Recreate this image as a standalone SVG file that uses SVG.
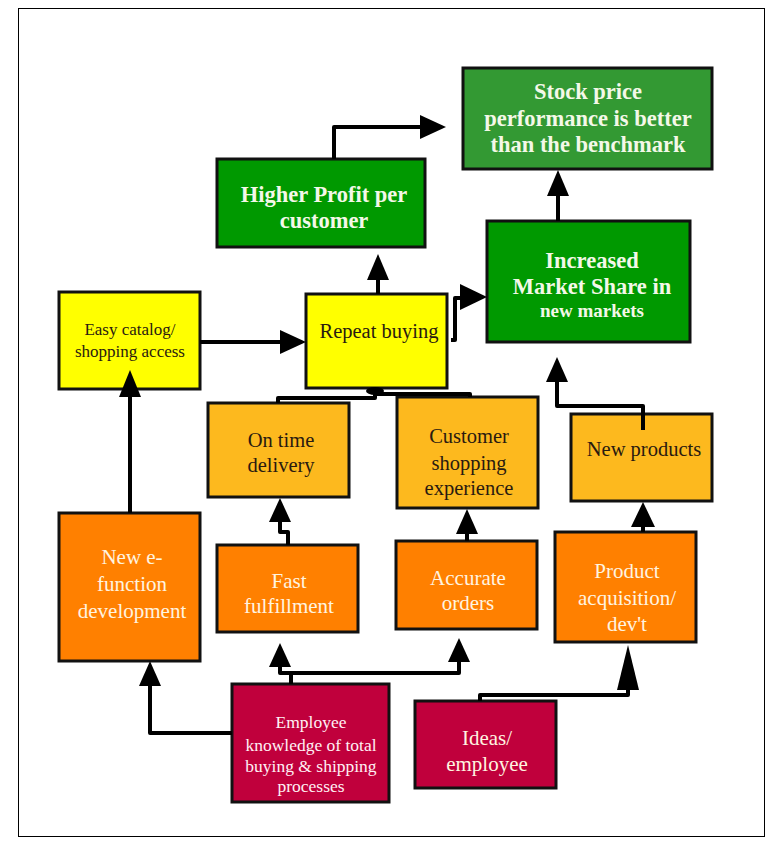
<svg xmlns="http://www.w3.org/2000/svg" width="775" height="848" viewBox="0 0 775 848">
<style>
.n{stroke:#111;stroke-width:3}
.g1{fill:#339933}.g2{fill:#009900}.y{fill:#ffff00}.oy{fill:#fdb91e}.o{fill:#ff8000}.r{fill:#c0003c}
text{text-anchor:middle}
.tb{font-weight:bold;font-size:22.5px;fill:#f4f8e8}
.td{font-size:20.5px;fill:#2a1a10}
.tw{font-size:21px;fill:#fff4e0}
.tr{font-size:17.5px;fill:#fff0f4}
.c{fill:none;stroke:#000;stroke-width:4;stroke-linejoin:round}
.a{fill:#000}
</style>
<rect x="18.5" y="8.5" width="746" height="828" fill="#fff" stroke="#000" stroke-width="1"/>
<g font-family="'Liberation Serif', 'Times New Roman', serif">
<g id="stock"><rect class="n g1" x="463" y="68" width="249" height="101"/>
<text class="tb" x="588" y="99">Stock price</text><text class="tb" x="588" y="126">performance is better</text><text class="tb" x="588" y="152">than the benchmark</text></g>
<g id="profit"><rect class="n g2" x="217" y="159" width="208" height="88"/>
<text class="tb" x="324" y="202">Higher Profit per</text><text class="tb" x="324" y="228">customer</text></g>
<g id="market"><rect class="n g2" x="487" y="221" width="203" height="121"/>
<text class="tb" x="592" y="268">Increased</text><text class="tb" x="592" y="294">Market Share in</text><text class="tb" x="592" y="317" style="font-size:19px">new markets</text></g>
<g id="easy"><rect class="n y" x="59" y="292" width="141" height="97"/>
<text class="td" x="130" y="335" style="font-size:17px">Easy catalog/</text><text class="td" x="130" y="357" style="font-size:17px">shopping access</text></g>
<g id="repeat"><rect class="n y" x="306" y="294" width="141" height="94"/>
<text class="td" x="379" y="338">Repeat buying</text></g>
<g id="ontime"><rect class="n oy" x="208" y="403" width="141" height="94"/>
<text class="td" x="281" y="447">On time</text><text class="td" x="281" y="472">delivery</text></g>
<g id="customer"><rect class="n oy" x="397" y="397" width="141" height="111"/>
<text class="td" x="469" y="443">Customer</text><text class="td" x="469" y="470">shopping</text><text class="td" x="469" y="495">experience</text></g>
<g id="newproducts"><rect class="n oy" x="571" y="414" width="141" height="87"/>
<text class="td" x="644" y="456">New products</text></g>
<g id="efunction"><rect class="n o" x="59" y="513" width="141" height="148"/>
<text class="tw" x="132" y="564">New e-</text><text class="tw" x="132" y="591">function</text><text class="tw" x="132" y="618">development</text></g>
<g id="fast"><rect class="n o" x="217" y="545" width="141" height="87"/>
<text class="tw" x="289" y="588">Fast</text><text class="tw" x="289" y="613">fulfillment</text></g>
<g id="accurate"><rect class="n o" x="396" y="541" width="141" height="88"/>
<text class="tw" x="468" y="585">Accurate</text><text class="tw" x="468" y="610">orders</text></g>
<g id="acquisition"><rect class="n o" x="555" y="532" width="141" height="110"/>
<text class="tw" x="627" y="578">Product</text><text class="tw" x="627" y="605">acquisition/</text><text class="tw" x="627" y="631">dev't</text></g>
<g id="employee"><rect class="n r" x="232" y="684" width="157" height="118"/>
<text class="tr" x="311" y="728">Employee</text><text class="tr" x="311" y="751">knowledge of total</text><text class="tr" x="311" y="772">buying  &amp; shipping</text><text class="tr" x="311" y="792">processes</text></g>
<g id="ideas"><rect class="n r" x="415" y="701" width="141" height="87"/>
<text class="tw" x="487" y="745">Ideas/</text><text class="tw" x="487" y="771">employee</text></g>
</g>
<g id="connectors">
<path class="c" d="M334,159 V127 H422"/><polygon class="a" points="420,115 446,127 420,139"/>
<path class="c" d="M378,294 V278"/><polygon class="a" points="367,280 378,254 389,280"/>
<path class="c" d="M451,340 H455 V298 H462"/><polygon class="a" points="460,284 487,297 460,310"/>
<path class="c" d="M558,221 V194"/><polygon class="a" points="547,196 558,170 569,196"/>
<path class="c" d="M200,342 H282"/><polygon class="a" points="280,330 306,342 280,354"/>
<path class="c" d="M130,513 V395"/><polygon class="a" points="119,397 130,370 141,397"/>
<path class="c" d="M278,403 V398 H375 V390 M470,397 V394 H375"/>
<ellipse cx="375" cy="391" rx="9" ry="4" class="a"/>
<path class="c" d="M288,545 V532 H280 V520"/><polygon class="a" points="269,522 280,498 291,522"/>
<path class="c" d="M467,541 V530"/><polygon class="a" points="456,534 467,509 478,534"/>
<path class="c" d="M643,532 V524"/><polygon class="a" points="631,527 643,502 655,527"/>
<path class="c" d="M643,430 V406 H557 V380"/><polygon class="a" points="546,382 557,357 568,382"/>
<path class="c" d="M232,733 H150 V684"/><polygon class="a" points="139,686 150,661 161,686"/>
<path class="c" d="M291,684 V673 H280 V665 M291,673 H459 V660"/><polygon class="a" points="269,667 280,643 291,667"/><polygon class="a" points="448,662 459,638 470,662"/>
<path class="c" d="M480,701 V695 H628 V688"/><polygon class="a" points="617,690 628,645 639,690"/>
</g>
</svg>
